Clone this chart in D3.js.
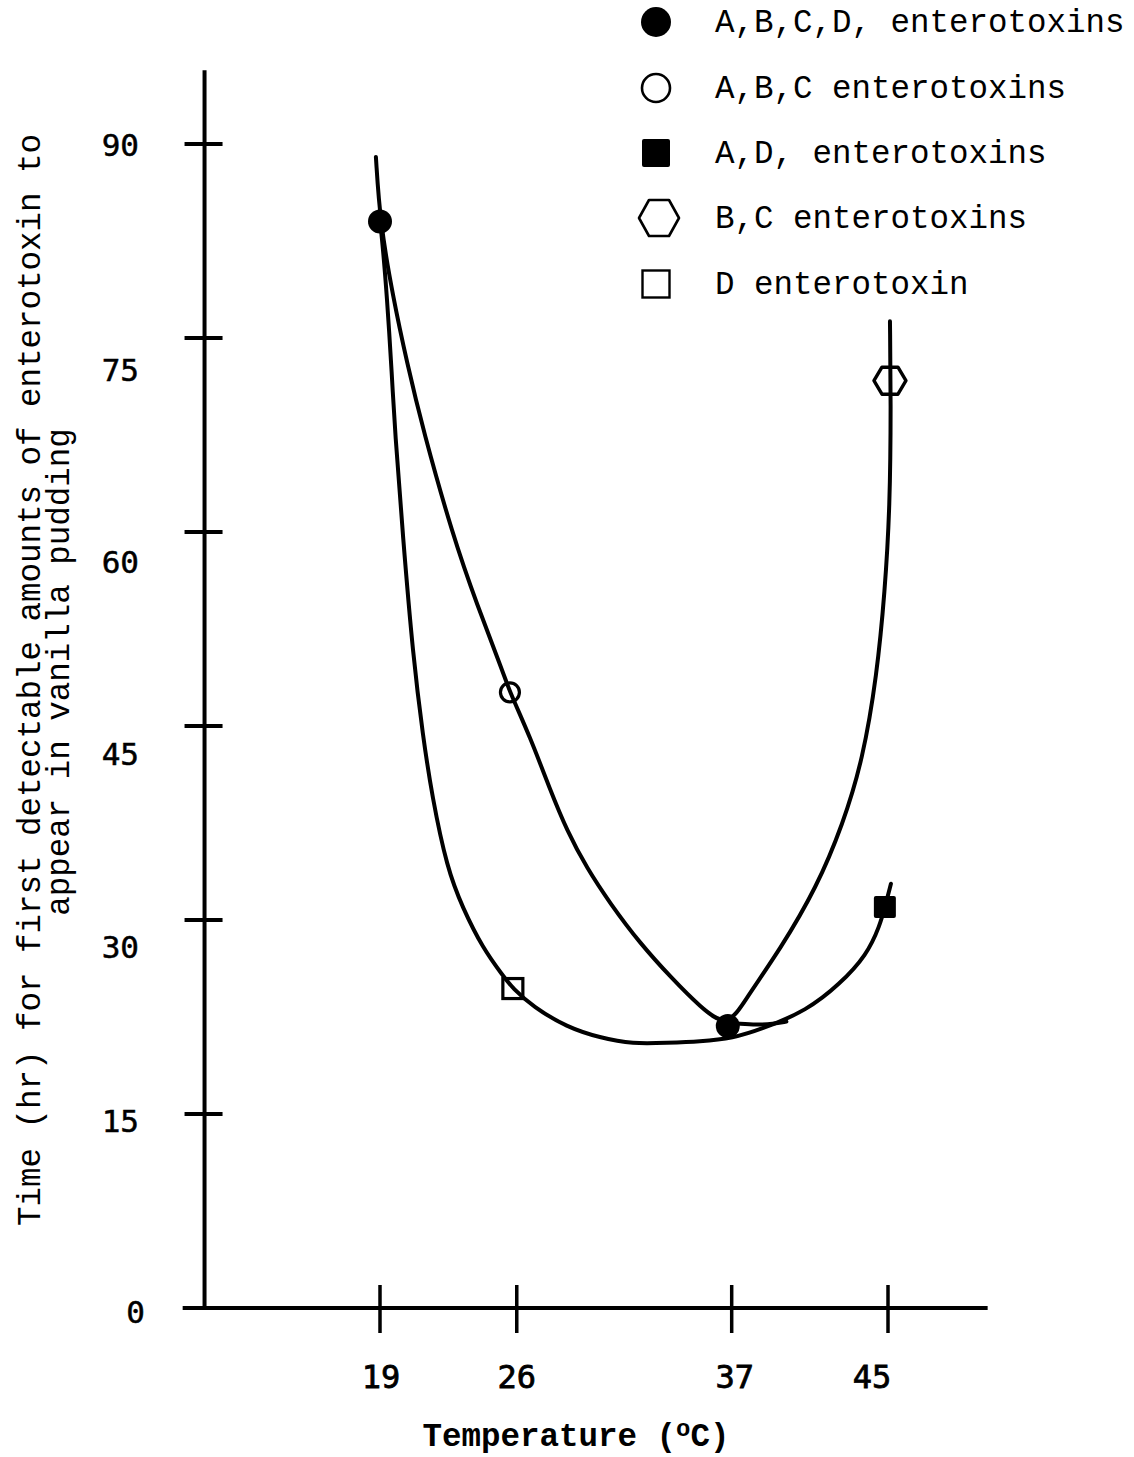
<!DOCTYPE html>
<html>
<head>
<meta charset="utf-8">
<script src="https://cdn.jsdelivr.net/npm/d3@7"></script>
<style>
  html, body { margin: 0; padding: 0; background: #fff; }
  svg { display: block; }
</style>
</head>
<body>
<div id="chart"></div>
<script>
// values (temperature in °C, time in hours)
const tempTicks = [19, 26, 37, 45];
const hourTicks = [0, 15, 30, 45, 60, 75, 90];

const legendLabels = [
  'A,B,C,D, enterotoxins',
  'A,B,C enterotoxins',
  'A,D, enterotoxins',
  'B,C enterotoxins',
  'D enterotoxin'
];
const legendShapes = ['circleFilled', 'circleOpen', 'squareFilled', 'hexOpen', 'squareOpen'];

const pointsABCD = [[19, 84.0], [36.8, 21.8]];
const pointsABC = [[25.65, 47.6]];
const pointsAD = [[44.84, 31.0]];
const pointsBC = [[45.1, 71.7]];
const pointsD = [[25.8, 24.7]];

// hand drawn curves
const upperCurve = [
  [18.79, 89.0], [19.0, 84.0], [19.66, 78.2], [20.38, 73.1],
  [21.2, 67.9], [22.73, 59.7], [23.96, 54.4], [25.29, 49.2], [25.65, 47.6],
  [26.67, 44.2], [27.7, 40.1], [28.57, 36.9], [29.59, 34.0], [30.77, 31.3],
  [32.3, 28.2], [33.99, 25.4], [35.37, 23.3], [36.8, 21.6], [37.78, 24.05],
  [39.47, 27.7], [41.36, 32.55], [42.69, 37.4], [43.71, 42.4], [44.43, 48.9],
  [44.84, 55.4], [45.1, 61.9], [45.15, 70.0], [45.1, 76.3]
];
const lowerCurve = [
  [19.0, 84.0], [19.1, 82.8], [19.36, 78.2], [19.61, 72.1], [19.76, 67.9],
  [20.17, 59.7], [20.69, 50.4], [21.2, 44.2], [21.66, 39.6], [22.43, 34.0],
  [23.24, 30.9], [24.27, 27.8], [25.29, 25.7], [25.8, 24.7], [26.83, 23.3],
  [28.57, 21.7], [30.25, 20.9], [31.94, 20.4], [33.68, 20.5], [35.37, 20.6],
  [37.06, 20.85], [38.6, 21.6], [40.85, 23.0], [42.54, 25.05], [43.92, 27.3],
  [44.59, 29.6], [44.84, 31.0], [45.15, 32.8]
];
const joinCurve = [[37.27, 22.0], [38.3, 21.9], [39.1, 21.95], [39.8, 22.15]];

const width = 1134;
const height = 1457;

const svg = d3.select('#chart').append('svg')
  .attr('width', width)
  .attr('height', height)
  .style('background', '#fff');

const x = d3.scaleLinear().domain([19, 45]).range([380, 888]);
const y = d3.scaleLinear().domain([0, 90]).range([1308, 144]);

const typeFont = '"Courier New", "Liberation Mono", monospace';
const digitFont = '"DejaVu Sans Mono", monospace';

// axes
const axisX0 = x(10.02);
svg.append('line')
  .attr('x1', axisX0).attr('x2', axisX0)
  .attr('y1', y(95.7)).attr('y2', y(0) + 2)
  .attr('stroke', '#000').attr('stroke-width', 4);

svg.append('line')
  .attr('x1', x(8.9)).attr('x2', x(50.1))
  .attr('y1', y(0)).attr('y2', y(0))
  .attr('stroke', '#000').attr('stroke-width', 4);

// y ticks cross the axis
svg.selectAll('line.ytick')
  .data(hourTicks.filter(d => d > 0))
  .enter().append('line')
  .attr('class', 'ytick')
  .attr('x1', axisX0 - 20).attr('x2', axisX0 + 18)
  .attr('y1', d => y(d)).attr('y2', d => y(d))
  .attr('stroke', '#000').attr('stroke-width', 4);

svg.selectAll('line.xtick')
  .data(tempTicks)
  .enter().append('line')
  .attr('class', 'xtick')
  .attr('x1', d => x(d)).attr('x2', d => x(d))
  .attr('y1', y(0) - 23).attr('y2', y(0) + 25)
  .attr('stroke', '#000').attr('stroke-width', 3.5);

// typed labels sit a bit off their ticks in the original
const yLabelNudge = { 0: 4, 15: 7, 30: 27, 45: 28, 60: 30, 75: 32, 90: 1 };
svg.selectAll('text.ylab')
  .data(hourTicks)
  .enter().append('text')
  .attr('class', 'ylab')
  .attr('x', d => d === 0 ? 145 : 139)
  .attr('y', d => y(d) + yLabelNudge[d])
  .attr('dy', '0.36em')
  .attr('text-anchor', 'end')
  .attr('font-family', digitFont)
  .attr('font-size', 31)
  .attr('stroke', '#000').attr('stroke-width', 0.5)
  .text(d => d);

const xLabelNudge = { 19: 1, 26: 0, 37: 3, 45: -16 };
svg.selectAll('text.xlab')
  .data(tempTicks)
  .enter().append('text')
  .attr('class', 'xlab')
  .attr('x', d => x(d) + xLabelNudge[d])
  .attr('y', 1388)
  .attr('text-anchor', 'middle')
  .attr('font-family', digitFont)
  .attr('font-size', 32)
  .attr('stroke', '#000').attr('stroke-width', 0.8)
  .text(d => d);

const xTitle = svg.append('text')
  .attr('x', 576)
  .attr('y', 1446)
  .attr('text-anchor', 'middle')
  .attr('font-family', typeFont)
  .attr('font-weight', 'bold')
  .attr('font-size', 32.5)
  .text('Temperature (');
xTitle.append('tspan').attr('dy', -10).attr('font-size', 24).text('o');
xTitle.append('tspan').attr('dy', 10).text('C)');

const yTitle = svg.append('g')
  .attr('font-family', typeFont)
  .attr('font-size', 32.5)
  .attr('text-anchor', 'middle');
yTitle.append('text')
  .attr('transform', 'translate(40,680) rotate(-90)')
  .text('Time (hr) for first detectable amounts of enterotoxin to');
yTitle.append('text')
  .attr('transform', 'translate(69,672) rotate(-90)')
  .text('appear in vanilla pudding');

// curves
const line = d3.line()
  .x(d => x(d[0]))
  .y(d => y(d[1]))
  .curve(d3.curveBasis);

svg.selectAll('path.curve')
  .data([upperCurve, lowerCurve, joinCurve])
  .enter().append('path')
  .attr('class', 'curve')
  .attr('d', line)
  .attr('fill', 'none')
  .attr('stroke', '#000')
  .attr('stroke-width', 4)
  .attr('stroke-linecap', 'round')
  .attr('stroke-linejoin', 'round');

// markers
function hexPath(w, h) {
  return d3.line()([[-w / 2, 0], [-w / 4, -h / 2], [w / 4, -h / 2], [w / 2, 0], [w / 4, h / 2], [-w / 4, h / 2]]) + 'Z';
}

function drawMarker(g, shape, big) {
  const k = big ? 1.25 : 1;
  if (shape === 'circleFilled') {
    g.append('circle').attr('r', 12 * k).attr('fill', '#000');
  } else if (shape === 'circleOpen') {
    g.append('circle').attr('r', (big ? 14 : 9.5)).attr('fill', big ? '#fff' : 'none')
      .attr('stroke', '#000').attr('stroke-width', big ? 2.6 : 3.2);
  } else if (shape === 'squareFilled') {
    const s = big ? 28 : 22;
    g.append('rect').attr('x', -s / 2).attr('y', -s / 2).attr('width', s).attr('height', s)
      .attr('rx', 2).attr('fill', '#000');
  } else if (shape === 'hexOpen') {
    g.append('path').attr('d', big ? hexPath(40, 36) : hexPath(32, 27))
      .attr('fill', big ? '#fff' : 'none')
      .attr('stroke', '#000').attr('stroke-width', big ? 2.6 : 3.4)
      .attr('stroke-linejoin', 'round');
  } else if (shape === 'squareOpen') {
    const s = big ? 27 : 20;
    g.append('rect').attr('x', -s / 2).attr('y', -s / 2).attr('width', s).attr('height', s)
      .attr('fill', 'none').attr('stroke', '#000').attr('stroke-width', big ? 2.4 : 3.2);
  }
}

const seriesPoints = [pointsABCD, pointsABC, pointsAD, pointsBC, pointsD];
seriesPoints.forEach((pts, i) => {
  pts.forEach(p => {
    const g = svg.append('g').attr('transform', 'translate(' + x(p[0]) + ',' + y(p[1]) + ')');
    drawMarker(g, legendShapes[i], false);
  });
});

// legend
const legendRowY = [22, 88, 153, 218, 284];
const legend = svg.append('g');
legendLabels.forEach((label, i) => {
  const row = legend.append('g').attr('transform', 'translate(0,' + legendRowY[i] + ')');
  const m = row.append('g').attr('transform', 'translate(' + (i === 3 ? 659 : 656) + ',0)');
  drawMarker(m, legendShapes[i], true);
  row.append('text')
    .attr('x', 715)
    .attr('y', 10)
    .attr('font-family', typeFont)
    .attr('font-size', 32.5)
    .text(label);
});
</script>
</body>
</html>
